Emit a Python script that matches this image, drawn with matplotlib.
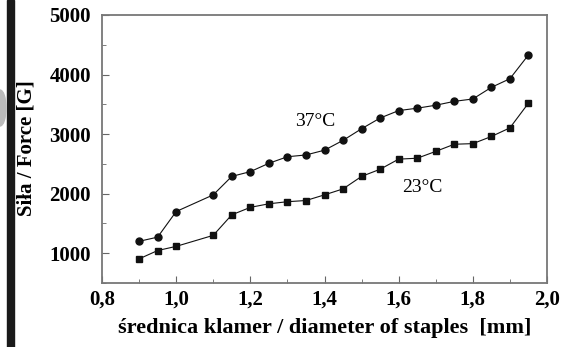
import matplotlib.pyplot as plt
from matplotlib.patches import Rectangle, Ellipse
from matplotlib.ticker import MultipleLocator, FuncFormatter

# diameter of staples [mm]
diam = [0.9, 0.95, 1.0, 1.1, 1.15, 1.2, 1.25, 1.3, 1.35, 1.4, 1.45,
        1.5, 1.55, 1.6, 1.65, 1.7, 1.75, 1.8, 1.85, 1.9, 1.95]
# force at 37 C
f37 = [1200, 1270, 1700, 1980, 2290, 2370, 2510, 2620, 2650, 2730, 2895,
       3090, 3270, 3395, 3435, 3485, 3550, 3590, 3785, 3930, 4330]
# force at 23 C
f23 = [905, 1045, 1115, 1300, 1645, 1770, 1830, 1865, 1885, 1980, 2080,
       2290, 2410, 2580, 2595, 2710, 2830, 2840, 2960, 3105, 3520]

plt.rcParams['font.family'] = ['Liberation Serif', 'DejaVu Serif']

fig = plt.figure(figsize=(5.67, 3.47), dpi=100)
ax = fig.add_axes([102/567, 1-283/347, 445/567, 268/347])

ax.plot(diam, f37, '-o', color='#111111', lw=0.8, ms=5)
ax.plot(diam, f23, '-s', color='#111111', lw=0.8, ms=5)

ax.set_xlim(0.8, 2.0)
ax.set_ylim(500, 5000)
ax.xaxis.set_major_locator(MultipleLocator(0.2))
ax.xaxis.set_minor_locator(MultipleLocator(0.1))
ax.yaxis.set_major_locator(MultipleLocator(1000))
ax.yaxis.set_minor_locator(MultipleLocator(500))
ax.xaxis.set_major_formatter(FuncFormatter(lambda v, p: f'{v:.1f}'.replace('.', ',')))
ax.tick_params(which='both', direction='in', top=False, right=False)
ax.tick_params(which='major', length=5, labelsize=15, color='#666666')
ax.tick_params(axis='x', which='major', pad=5)
ax.tick_params(axis='y', which='major', pad=8)
ax.tick_params(which='minor', length=3, color='#666666')
for lab in ax.get_xticklabels() + ax.get_yticklabels():
    lab.set_fontweight('bold')
for s in ax.spines.values():
    s.set_color('#777777')
    s.set_linewidth(1.3)

ax.text(1.375, 3220, '37°C', fontsize=14, ha='center', va='center')
ax.text(1.663, 2100, '23°C', fontsize=14, ha='center', va='center')

ax.set_xlabel('średnica klamer / diameter of staples  [mm]', fontsize=16,
              fontweight='bold', labelpad=6)
fig.text(26/567, 1-148/347, 'Siła / Force [G]', rotation=90, fontsize=15,
         fontweight='bold', ha='center', va='center')

# scan artefacts at the left edge
fig.patches.append(Rectangle((7/567, 0), 7/567, 1, transform=fig.transFigure,
                             color='#1a1a1a', zorder=0))
fig.patches.append(Ellipse((0, 1-108/347), 12/567, 36/347, transform=fig.transFigure,
                           color='#bbbbbb', zorder=0))

fig.savefig('out.png', dpi=100)
